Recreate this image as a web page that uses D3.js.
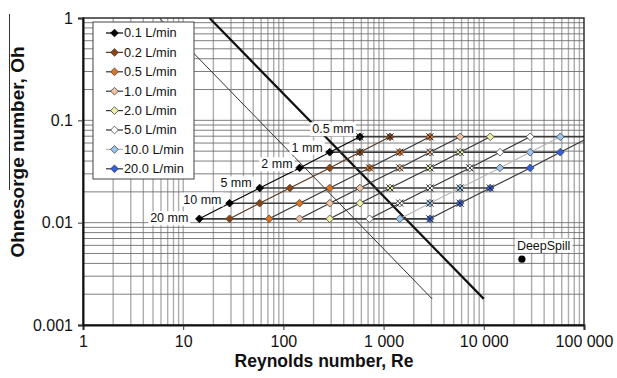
<!DOCTYPE html>
<html>
<head>
<meta charset="utf-8">
<script src="https://cdn.jsdelivr.net/npm/d3@7/dist/d3.min.js"></script>
<style>
  body { margin: 0; background: #fff; }
  svg { display: block; font-family: "Liberation Sans", Arial, sans-serif; }
</style>
</head>
<body>
<svg id="chart" width="617" height="378"></svg>
<script>
// flow rates (series) and nozzle diameters (rows)
const flowRates = ["0.1 L/min", "0.2 L/min", "0.5 L/min", "1.0 L/min", "2.0 L/min", "5.0 L/min", "10.0 L/min", "20.0 L/min"];
const diameters = ["20 mm", "10 mm", "5 mm", "2 mm", "1 mm", "0.5 mm"];
// Ohnesorge number for each diameter
const ohValues = [0.0109, 0.0155, 0.0218, 0.0343, 0.0488, 0.069];
// Reynolds number per flow rate, one value per diameter (20 mm ... 0.5 mm)
const reValues = [
  [14.5, 29, 58, 145, 290, 580],
  [29, 58, 116, 290, 580, 1160],
  [72, 145, 290, 725, 1450, 2900],
  [145, 290, 580, 1450, 2900, 5800],
  [290, 580, 1160, 2900, 5800, 11600],
  [725, 1450, 2900, 7250, 14500, 29000],
  [1450, 2900, 5800, 14500, 29000, 58000],
  [2900, 5800, 11600, 29000, 58000, 116000]
];
// points drawn with an extra cross, [flow index, diameter index]
const crossed = [[0,5],[1,5],[2,5],[1,4],[2,4],[3,4],[4,4],[2,3],[3,3],[4,3],[5,3],
                 [4,2],[5,2],[6,2],[7,2],[5,1],[6,1],[7,1],[7,0]];
// the two sloping boundary lines (Re, Oh)
const thinLine = [[5.8, 1], [3050, 0.0018]];
const thickLine = [[18.3, 1], [10000, 0.0018]];
const deepSpill = [24000, 0.0044];

const xTicks = [1, 10, 100, 1000, 10000, 100000];
const xTickLabels = ["1", "10", "100", "1 000", "10 000", "100 000"];
const yTicks = [0.001, 0.01, 0.1, 1];
const yTickLabels = ["0.001", "0.01", "0.1", "1"];

const fills = ["#000000", "#8b4513", "#e0731f", "#f0c4a2", "#eeeea6", "#ffffff", "#9cc6ec", "#2f5fe0"];
const lineColors = ["#000", "#5a3518", "#333", "#333", "#333", "#333", "#b4b4b4", "#333"];

const svg = d3.select("#chart");
const pL = 83, pR = 584, pT = 18, pB = 325;
const x = d3.scaleLog().domain([1, 100000]).range([pL, pR]);
const y = d3.scaleLog().domain([0.001, 1]).range([pB, pT]);

svg.append("defs").append("clipPath").attr("id", "plot")
  .append("rect").attr("x", pL).attr("y", pT)
  .attr("width", pR - pL).attr("height", pB - pT);

// grid
const grid = svg.append("g");
const xGrid = x.ticks().filter(d => d > 1 && d < 100000);
grid.selectAll(".vx").data(xGrid).join("line")
  .attr("x1", d => x(d)).attr("x2", d => x(d))
  .attr("y1", pT).attr("y2", pB)
  .attr("stroke", "#adadad").attr("stroke-width", 1.4);
const yGrid = y.ticks().filter(d => d > 0.001 && d < 1);
grid.selectAll(".hy").data(yGrid).join("line")
  .attr("x1", pL).attr("x2", pR)
  .attr("y1", d => y(d)).attr("y2", d => y(d))
  .attr("stroke", "#6f6f6f").attr("stroke-width", 0.9);

const plot = svg.append("g").attr("clip-path", "url(#plot)");
const line = d3.line().x(d => x(d[0])).y(d => y(d[1]));

plot.append("path").attr("d", line(thinLine))
  .attr("fill", "none").attr("stroke", "#333").attr("stroke-width", 1);
plot.append("path").attr("d", line(thickLine))
  .attr("fill", "none").attr("stroke", "#111").attr("stroke-width", 2.2);

// constant-diameter rows
diameters.forEach((dm, j) => {
  const pts = reValues.map(r => [r[j], ohValues[j]]);
  plot.append("path").attr("d", line(pts))
    .attr("fill", "none").attr("stroke", "#3a3a3a").attr("stroke-width", 1.6);
});

// series lines
reValues.forEach((r, i) => {
  const pts = r.map((v, j) => [v, ohValues[j]]);
  plot.append("path").attr("d", line(pts))
    .attr("fill", "none").attr("stroke", lineColors[i]).attr("stroke-width", 1.1);
});

const diamond = d3.symbol().type(d3.symbolDiamond2).size(38);
const cross = d3.symbol().type(d3.symbolX).size(34);

reValues.forEach((r, i) => {
  plot.selectAll(null).data(r.map((v, j) => [v, ohValues[j]])).join("path")
    .attr("d", diamond)
    .attr("transform", d => `translate(${x(d[0])},${y(d[1])})`)
    .attr("fill", fills[i]).attr("stroke", i === 0 ? "#000" : "#444").attr("stroke-width", 0.8);
});
plot.selectAll(".cx").data(crossed).join("path")
  .attr("d", cross)
  .attr("transform", d => `translate(${x(reValues[d[0]][d[1]])},${y(ohValues[d[1]])})`)
  .attr("fill", "none").attr("stroke", "#222").attr("stroke-width", 1);

// diameter labels
const labelNudge = [[-11, -1], [-8, -4], [-8, -5], [-7, -4], [-7, -5], [-6, -8]];
diameters.forEach((dm, j) => {
  const px = x(reValues[0][j]) + labelNudge[j][0];
  const py = y(ohValues[j]) + labelNudge[j][1];
  const g = svg.append("g");
  const t = g.append("text").attr("x", px).attr("y", py).attr("dy", "0.35em")
    .attr("text-anchor", "end").attr("font-size", 12.5).attr("fill", "#111").text(dm);
  const b = t.node().getBBox();
  g.insert("rect", "text").attr("x", b.x - 2).attr("y", b.y).attr("width", b.width + 4)
    .attr("height", b.height).attr("fill", "#fff");
});

// DeepSpill
svg.append("circle").attr("cx", x(deepSpill[0])).attr("cy", y(deepSpill[1])).attr("r", 3.6).attr("fill", "#000");
{
  const g = svg.append("g");
  const t = g.append("text").attr("x", x(deepSpill[0]) - 5).attr("y", y(deepSpill[1]) - 14).attr("dy", "0.35em")
    .attr("font-size", 12.5).attr("fill", "#111").text("DeepSpill");
  const b = t.node().getBBox();
  g.insert("rect", "text").attr("x", b.x - 2).attr("y", b.y).attr("width", b.width + 4)
    .attr("height", b.height).attr("fill", "#fff");
}

// legend
const legend = svg.append("g").attr("transform", "translate(93,22)");
legend.append("rect").attr("width", 101).attr("height", 157)
  .attr("fill", "#fff").attr("stroke", "#444").attr("stroke-width", 1);
flowRates.forEach((f, i) => {
  const ly = 11 + i * 19.4;
  legend.append("line").attr("x1", 13).attr("x2", 30).attr("y1", ly).attr("y2", ly)
    .attr("stroke", lineColors[i]).attr("stroke-width", 1.2);
  legend.append("path").attr("d", diamond).attr("transform", `translate(21.5,${ly})`)
    .attr("fill", fills[i]).attr("stroke", i === 0 ? "#000" : "#444").attr("stroke-width", 0.8);
  legend.append("text").attr("x", 31).attr("y", ly).attr("dy", "0.35em")
    .attr("font-size", 12.8).attr("fill", "#111").text(f);
});

// frame
svg.append("rect").attr("x", pL).attr("y", pT).attr("width", pR - pL).attr("height", pB - pT)
  .attr("fill", "none").attr("stroke", "#222").attr("stroke-width", 1.4);

// axes
const xAxis = svg.append("g").attr("transform", `translate(0,${pB})`)
  .call(d3.axisBottom(x).tickValues(xTicks).tickFormat((d, i) => xTickLabels[i]).tickSize(5).tickPadding(6));
const yAxis = svg.append("g").attr("transform", `translate(${pL},0)`)
  .call(d3.axisLeft(y).tickValues(yTicks).tickFormat((d, i) => yTickLabels[i]).tickSize(5).tickPadding(5));
[xAxis, yAxis].forEach(a => {
  a.select(".domain").attr("stroke", "#111").attr("stroke-width", 2);
  a.selectAll(".tick line").attr("stroke", "#333");
  a.selectAll(".tick text").attr("font-size", 16).attr("fill", "#111")
    .attr("font-family", "Liberation Sans, Arial, sans-serif");
});

svg.append("text").attr("x", 324).attr("y", 367).attr("text-anchor", "middle")
  .attr("font-size", 17.5).attr("font-weight", "bold").attr("fill", "#111").text("Reynolds number, Re");
svg.append("text").attr("transform", "translate(24,152) rotate(-90)").attr("text-anchor", "middle")
  .attr("font-size", 19).attr("font-weight", "bold").attr("fill", "#111").text("Ohnesorge number, Oh");
svg.append("line").attr("x1", 9.5).attr("x2", 9.5).attr("y1", 14).attr("y2", 190)
  .attr("stroke", "#333").attr("stroke-width", 1);
</script>
</body>
</html>
